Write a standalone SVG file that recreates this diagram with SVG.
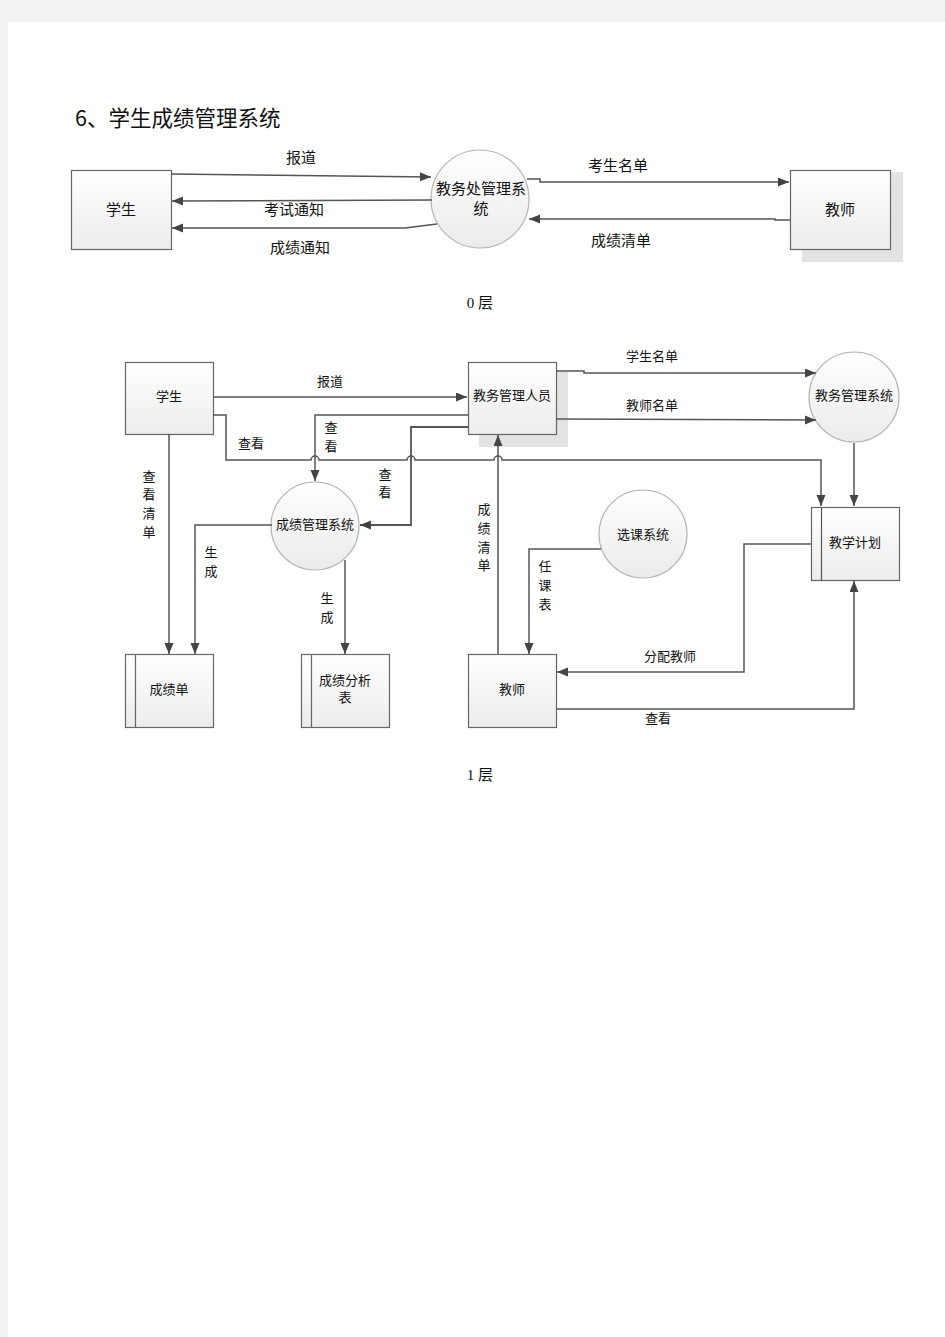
<svg xmlns="http://www.w3.org/2000/svg" width="945" height="1337" viewBox="0 0 945 1337">
<style>
text{font-family:"Noto Sans CJK SC","Noto Sans",sans-serif;fill:#111;text-anchor:middle;dominant-baseline:central;transform:translate(0px,-1.5px)}
.t15{font-size:15px}
.t13{font-size:13px}
.box{fill:url(#gb);stroke:#666;stroke-width:1.2}
.circ{fill:url(#gc);stroke:#b5b5b5;stroke-width:1.2}
.ln{fill:none;stroke:#555;stroke-width:1.5}
.sh{fill:#e3e3e3}
.cap{font-family:"Liberation Serif","Noto Sans CJK SC",serif;font-size:15px}
</style>
<defs>
<linearGradient id="gb" x1="0" y1="0" x2="0" y2="1"><stop offset="0" stop-color="#ffffff"/><stop offset="1" stop-color="#ececec"/></linearGradient>
<linearGradient id="gc" x1="0" y1="0" x2="0" y2="1"><stop offset="0" stop-color="#ffffff"/><stop offset="1" stop-color="#ebebeb"/></linearGradient>
<marker id="ar" markerUnits="userSpaceOnUse" markerWidth="12" markerHeight="10" refX="11" refY="4.5" orient="auto"><path d="M0,0 L11,4.5 L0,9 z" fill="#444"/></marker>
</defs>
<rect x="0" y="0" width="945" height="1337" fill="#f2f2f2"/>
<rect x="8" y="22" width="937" height="1315" fill="#ffffff"/>
<text x="75" y="118" style="font-size:21.5px;text-anchor:start">6、学生成绩管理系统</text>

<!-- Level 0 -->
<g id="n0-student">
<rect class="box" x="71.5" y="170.5" width="100" height="79"/>
<text class="t15" x="121" y="210">学生</text>
</g>
<g id="n0-system">
<circle class="circ" cx="480" cy="199" r="49"/>
<text class="t15" x="481" y="189">教务处管理系</text>
<text class="t15" x="481" y="209">统</text>
</g>
<g id="n0-teacher">
<rect class="sh" x="802" y="172" width="101" height="90"/>
<rect class="box" x="790.5" y="170.5" width="100" height="79"/>
<text class="t15" x="840" y="210">教师</text>
</g>
<g id="connectors0">
<path class="ln" d="M171,174 L431,177" marker-end="url(#ar)"/>
<path class="ln" d="M432,200 L172,201" marker-end="url(#ar)"/>
<path class="ln" d="M437,224 L405,228 L172,228" marker-end="url(#ar)"/>
<path class="ln" d="M527,179 H540 V182 H789" marker-end="url(#ar)"/>
<path class="ln" d="M790,220 H775 V219 H529" marker-end="url(#ar)"/>
<text class="t15" x="301" y="158">报道</text>
<text class="t15" x="294" y="210">考试通知</text>
<text class="t15" x="300" y="248">成绩通知</text>
<text class="t15" x="618" y="166">考生名单</text>
<text class="t15" x="621" y="241">成绩清单</text>
</g>
<text class="cap" x="480" y="304">0 层</text>

<!-- Level 1 -->
<g id="n1-student">
<rect class="box" x="125.5" y="362.5" width="88" height="72"/>
<text class="t13" x="169" y="397">学生</text>
</g>
<g id="n1-staff">
<rect class="sh" x="479" y="372" width="89" height="75"/>
<rect class="box" x="468.5" y="362.5" width="88" height="72"/>
<text class="t13" x="512" y="396">教务管理人员</text>
</g>
<g id="n1-system">
<circle class="circ" cx="854" cy="397" r="45"/>
<text class="t13" x="854" y="396">教务管理系统</text>
</g>
<g id="n1-plan">
<rect class="box" x="811.5" y="507.5" width="88" height="73"/>
<line x1="821.5" y1="507.5" x2="821.5" y2="580.5" stroke="#555" stroke-width="1.2"/>
<text class="t13" x="855" y="543">教学计划</text>
</g>
<g id="n1-grade-system">
<circle class="circ" cx="315" cy="526" r="44"/>
<text class="t13" x="315" y="525">成绩管理系统</text>
</g>
<g id="n1-course-system">
<circle class="circ" cx="643" cy="534" r="44"/>
<text class="t13" x="643" y="535">选课系统</text>
</g>
<g id="n1-gradelist">
<rect class="box" x="125.5" y="654.5" width="88" height="73"/>
<line x1="135.5" y1="654.5" x2="135.5" y2="727.5" stroke="#666" stroke-width="1.2"/>
<text class="t13" x="169" y="690">成绩单</text>
</g>
<g id="n1-analysis">
<rect class="box" x="301.5" y="654.5" width="88" height="73"/>
<line x1="311.5" y1="654.5" x2="311.5" y2="727.5" stroke="#666" stroke-width="1.2"/>
<text class="t13" x="345" y="681">成绩分析</text>
<text class="t13" x="345" y="698">表</text>
</g>
<g id="n1-teacher">
<rect class="box" x="468.5" y="654.5" width="88" height="73"/>
<text class="t13" x="512" y="690">教师</text>
</g>
<g id="connectors1">
<path class="ln" d="M213,397 H467" marker-end="url(#ar)"/>
<path class="ln" d="M556,371 H584 V373 H816" marker-end="url(#ar)"/>
<path class="ln" d="M556,419 L816,420" marker-end="url(#ar)"/>
<path class="ln" d="M854,443 V506" marker-end="url(#ar)"/>
<path class="ln" d="M213,415 H226 V460 H311 A4,4 0 0 1 319,460 H407 A4,4 0 0 1 415,460 H494 A4,4 0 0 1 502,460 H821 V506" marker-end="url(#ar)"/>
<path class="ln" d="M468,415 H315 V481" marker-end="url(#ar)"/>
<path class="ln" d="M468,427 H411 V525 H360" marker-end="url(#ar)" style="stroke-width:1.8"/>
<path class="ln" d="M169,434 V654" marker-end="url(#ar)"/>
<path class="ln" d="M272,525 H195 V654" marker-end="url(#ar)"/>
<path class="ln" d="M345,560 V654" marker-end="url(#ar)"/>
<path class="ln" d="M498,654 V435" marker-end="url(#ar)"/>
<path class="ln" d="M601,549 H529 V654" marker-end="url(#ar)"/>
<path class="ln" d="M811,544 H744 V672 H557" marker-end="url(#ar)"/>
<path class="ln" d="M556,709 H854 V581" marker-end="url(#ar)"/>
<text class="t13" x="330" y="382">报道</text>
<text class="t13" x="652" y="357">学生名单</text>
<text class="t13" x="652" y="406">教师名单</text>
<text class="t13" x="251" y="444">查看</text>
<text class="t13" x="331" y="428">查</text><text class="t13" x="331" y="447">看</text>
<text class="t13" x="385" y="475">查</text><text class="t13" x="385" y="493">看</text>
<text class="t13" x="149" y="477">查</text><text class="t13" x="149" y="495">看</text><text class="t13" x="149" y="514">清</text><text class="t13" x="149" y="533">单</text>
<text class="t13" x="211" y="553">生</text><text class="t13" x="211" y="572">成</text>
<text class="t13" x="327" y="599">生</text><text class="t13" x="327" y="618">成</text>
<text class="t13" x="484" y="510">成</text><text class="t13" x="484" y="529">绩</text><text class="t13" x="484" y="548">清</text><text class="t13" x="484" y="566">单</text>
<text class="t13" x="545" y="567">任</text><text class="t13" x="545" y="586">课</text><text class="t13" x="545" y="605">表</text>
<text class="t13" x="670" y="657">分配教师</text>
<text class="t13" x="658" y="719">查看</text>
</g>
<text class="cap" x="480" y="776">1 层</text>
</svg>
